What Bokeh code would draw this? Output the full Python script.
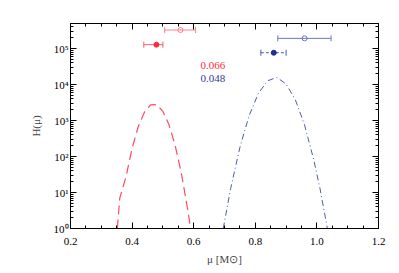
import numpy as np
from bokeh.plotting import figure
from bokeh.models import (LinearAxis, LogAxis, LogTicker, FixedTicker, PrintfTickFormatter,
                          CustomJSTickFormatter, Range1d, Label)
from bokeh.embed import file_html
from bokeh.resources import INLINE

# ---- data ----
red_mu = [0.352, 0.36, 0.38, 0.40, 0.42, 0.44, 0.46, 0.48, 0.50, 0.52, 0.54, 0.56, 0.58, 0.59]
red_H = [1, 7, 27, 170, 680, 1700, 2750, 2800, 1800, 760, 200, 34, 3.6, 1]

blue_mu = [0.696, 0.72, 0.75, 0.78, 0.81, 0.84, 0.87, 0.90, 0.93, 0.96, 0.99, 1.01, 1.034]
blue_H = [1, 13, 180, 1380, 5700, 12800, 15800, 10400, 3800, 750, 80, 13, 1]

# error-bar points: centre, low, high, H
red_open = dict(x=0.557, lo=0.506, hi=0.606, y=3.3e5)
red_fill = dict(x=0.479, lo=0.438, hi=0.500, y=1.29e5)
blue_open = dict(x=0.960, lo=0.873, hi=1.046, y=1.93e5)
blue_fill = dict(x=0.860, lo=0.818, hi=0.900, y=7.7e4)

red_value = "0.066"
blue_value = "0.048"

x_major = [0.2, 0.4, 0.6, 0.8, 1.0, 1.2]
x_minor = [0.25, 0.3, 0.35, 0.45, 0.5, 0.55, 0.65, 0.7, 0.75,
           0.85, 0.9, 0.95, 1.05, 1.1, 1.15]

FONT = "Liberation Serif"
RED = "#ff2a3c"
RED_LIGHT = "#ff7f8c"
BLUE_DARK = "#1f2f8f"
BLUE = "#4a5cb0"
BLUE_LIGHT = "#6878c4"

p = figure(frame_width=308, frame_height=205, output_backend="svg", toolbar_location=None,
           y_axis_type="log", x_range=Range1d(0.2, 1.2), y_range=Range1d(1, 5e5),
           min_border_left=70, min_border_right=21, min_border_top=23, min_border_bottom=45)
p.background_fill_color = "white"
p.border_fill_color = "white"
p.grid.visible = False
p.outline_line_color = "black"

# curves
p.line(red_mu, red_H, line_color="#ff4a5a", line_width=1.2, line_dash="9 5")
p.line(blue_mu, blue_H, line_color=BLUE, line_width=1.0, line_dash="6 3 1 3")

def errbar(d, color, dash, filled, lc):
    p.segment(x0=[d["lo"]], y0=[d["y"]], x1=[d["hi"]], y1=[d["y"]],
              line_color=lc, line_width=1, line_dash=dash)
    p.scatter([d["lo"], d["hi"]], [d["y"], d["y"]], marker="dash", angle=np.pi / 2,
              size=6, line_color=lc, line_width=1)
    if filled:
        p.scatter([d["x"]], [d["y"]], marker="circle", size=5, fill_color=color, line_color=color)
    else:
        p.scatter([d["x"]], [d["y"]], marker="circle", size=5, fill_color=None,
                  line_color=color, line_width=1)

errbar(red_open, RED_LIGHT, "solid", False, RED_LIGHT)
errbar(red_fill, RED, "solid", True, "#ff5a68")
errbar(blue_open, BLUE_LIGHT, "solid", False, BLUE_LIGHT)
errbar(blue_fill, BLUE_DARK, "3 2", True, BLUE)

p.add_layout(Label(x=0.622, y=3.4e4, text=red_value, text_color=RED, text_font=FONT,
                   text_font_size="11px", text_baseline="middle"))
p.add_layout(Label(x=0.622, y=1.47e4, text=blue_value, text_color="#2a3a9a", text_font=FONT,
                   text_font_size="11px", text_baseline="middle"))

sup = CustomJSTickFormatter(code="""
const s = {"0":"\u2070","1":"\u00b9","2":"\u00b2","3":"\u00b3","4":"\u2074","5":"\u2075","6":"\u2076","7":"\u2077","8":"\u2078","9":"\u2079","-":"\u207b"};
const e = Math.round(Math.log10(tick));
return "10" + String(e).split("").map(c => s[c]).join("");
""")

def style(ax, labels=True):
    ax.axis_line_color = "black"
    ax.major_tick_line_color = "black"
    ax.minor_tick_line_color = "black"
    ax.major_tick_in = 6
    ax.major_tick_out = 0
    ax.minor_tick_in = 3
    ax.minor_tick_out = 0
    ax.major_label_text_font = FONT
    ax.major_label_text_font_size = "11px"
    ax.major_label_text_color = "black"
    ax.axis_label_text_font = FONT
    ax.axis_label_text_font_size = "11px"
    ax.axis_label_text_font_style = "normal"
    if not labels:
        ax.major_label_text_color = None
        ax.major_label_text_font_size = "0px"
        ax.major_label_standoff = 0

xa = p.xaxis[0]
xa.ticker = FixedTicker(ticks=x_major, minor_ticks=x_minor)
xa.formatter = PrintfTickFormatter(format="%.1f")
xa.axis_label = "\u03bc [M\u2299]"
style(xa)
xa.major_label_standoff = 9
xa.axis_label_standoff = 5

ya = p.yaxis[0]
ya.ticker = LogTicker(num_minor_ticks=10)
ya.formatter = sup
ya.axis_label = "H(\u03bc)"
style(ya)
ya.major_label_standoff = 2
ya.axis_label_standoff = 9

top = LinearAxis(ticker=FixedTicker(ticks=x_major, minor_ticks=x_minor))
style(top, labels=False)
p.add_layout(top, "above")
right = LogAxis(ticker=LogTicker(num_minor_ticks=10))
style(right, labels=False)
p.add_layout(right, "right")

open("out.html", "w").write(file_html(p, INLINE))
